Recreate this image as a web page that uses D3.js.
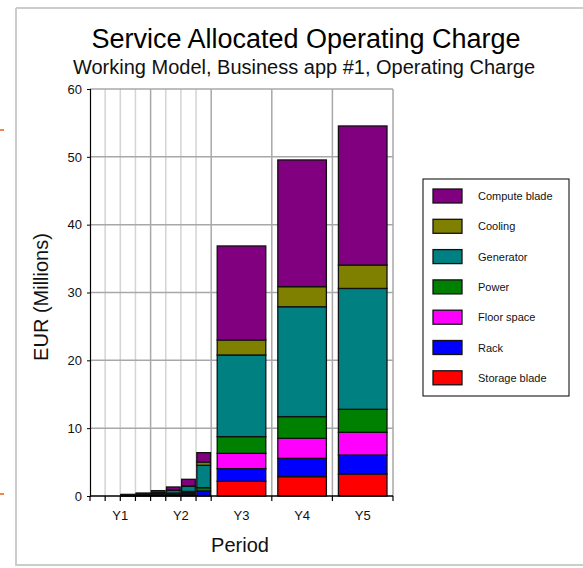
<!DOCTYPE html>
<html>
<head>
<meta charset="utf-8">
<script src="https://cdn.jsdelivr.net/npm/d3@7"></script>
<style>
  html, body { margin: 0; padding: 0; background: #fff; }
  svg { display: block; font-family: "Liberation Sans", Arial, sans-serif; }
</style>
</head>
<body>
<svg id="chart" width="583" height="568"></svg>
<script>
// ---- data ----
const years = ["Y1", "Y2", "Y3", "Y4", "Y5"];
const quarters = ["Q1", "Q2", "Q3", "Q4"];
const periodYear = ["Y1", "Y1", "Y1", "Y1", "Y2", "Y2", "Y2", "Y2", "Y3", "Y4", "Y5"];
const periodQuarter = ["Q1", "Q2", "Q3", "Q4", "Q1", "Q2", "Q3", "Q4", null, null, null];
const seriesNames = ["Compute blade", "Cooling", "Generator", "Power", "Floor space", "Rack", "Storage blade"];
const seriesColors = ["#800080", "#808000", "#008080", "#008000", "#ff00ff", "#0000ff", "#ff0000"];
const computeBlade = [0, 0, 0.05, 0.10, 0.30, 0.45, 0.94, 1.38, 13.86, 18.68, 20.50];
const cooling      = [0, 0, 0.01, 0.02, 0.03, 0.05, 0.10, 0.49, 2.21, 2.96, 3.45];
const generator    = [0, 0, 0.05, 0.10, 0.18, 0.40, 0.75, 3.29, 12.04, 16.20, 17.82];
const power        = [0, 0, 0.03, 0.05, 0.07, 0.10, 0.17, 0.49, 2.46, 3.20, 3.39];
const floorSpace   = [0, 0, 0.03, 0.05, 0.07, 0.10, 0.15, 0.05, 2.26, 2.95, 3.35];
const rack         = [0, 0, 0.04, 0.07, 0.08, 0.13, 0.20, 0.60, 1.87, 2.70, 2.80];
const storageBlade = [0, 0, 0.03, 0.05, 0.06, 0.10, 0.15, 0.09, 2.16, 2.85, 3.24];
const yTicks = [0, 10, 20, 30, 40, 50, 60];

const seriesValues = [computeBlade, cooling, generator, power, floorSpace, rack, storageBlade];

// table for stacking
const rows = periodYear.map((yr, i) => {
  const r = { year: yr, quarter: periodQuarter[i] };
  seriesNames.forEach((s, k) => { r[s] = seriesValues[k][i]; });
  return r;
});

const svg = d3.select("#chart");

// frame
svg.append("line").attr("x1", 16).attr("y1", 8).attr("x2", 583).attr("y2", 8).attr("stroke", "#c9cec9").attr("stroke-width", 2);
svg.append("line").attr("x1", 16).attr("y1", 565).attr("x2", 583).attr("y2", 565).attr("stroke", "#c9cec9").attr("stroke-width", 2);
svg.append("line").attr("x1", 16).attr("y1", 8).attr("x2", 16).attr("y2", 566).attr("stroke", "#c9cec9").attr("stroke-width", 2);
// orange marks on left
[130, 494].forEach(yy => svg.append("line").attr("x1", 0).attr("x2", 4).attr("y1", yy).attr("y2", yy).attr("stroke", "#f08a4b").attr("stroke-width", 2));

const plotLeft = 90, plotRight = 393, plotTop = 89, plotBottom = 496;

const x = d3.scaleBand().domain(years).range([plotLeft, plotRight]).padding(0);
const xq = d3.scaleBand().domain(quarters).range([0, x.bandwidth()]).paddingInner(0.1).paddingOuter(0.05);
const xa = d3.scaleBand().domain(["all"]).range([0, x.bandwidth()]).padding(0.11);
const y = d3.scaleLinear().domain([0, 60]).range([plotBottom, plotTop]);

// grid: quarter lines (light)
const g = svg.append("g");
["Y1", "Y2"].forEach(yr => {
  [1, 2, 3].forEach(k => {
    const pos = x(yr) + (x.bandwidth() / 4) * k;
    g.append("line").attr("x1", pos).attr("x2", pos).attr("y1", plotTop).attr("y2", plotBottom)
      .attr("stroke", "#d4d4d4").attr("stroke-width", 1.5);
  });
});
// year lines
years.forEach(yr => {
  const pos = x(yr) + x.bandwidth();
  g.append("line").attr("x1", pos).attr("x2", pos).attr("y1", plotTop).attr("y2", plotBottom)
    .attr("stroke", "#a8a8a8").attr("stroke-width", 1.5);
});
// horizontal grid
yTicks.slice(1).forEach(t => {
  g.append("line").attr("x1", plotLeft).attr("x2", plotRight).attr("y1", y(t)).attr("y2", y(t))
    .attr("stroke", "#a8a8a8").attr("stroke-width", 1.5);
});

// stacked bars
const stack = d3.stack().keys(seriesNames.slice().reverse());
const stacked = stack(rows);
const barsG = svg.append("g");
stacked.forEach(layer => {
  const color = seriesColors[seriesNames.indexOf(layer.key)];
  layer.forEach((seg, i) => {
    const r = rows[i];
    if (seg[1] - seg[0] <= 0) return;
    let bx, bw;
    if (r.quarter) { bx = x(r.year) + xq(r.quarter); bw = xq.bandwidth(); }
    else { bx = x(r.year) + xa("all"); bw = xa.bandwidth(); }
    barsG.append("rect")
      .attr("x", bx).attr("width", bw)
      .attr("y", y(seg[1])).attr("height", y(seg[0]) - y(seg[1]))
      .attr("fill", color).attr("stroke", "#111").attr("stroke-width", 1.3);
  });
});

// axes
const yAxis = d3.axisLeft(y).tickValues(yTicks).tickSize(3).tickPadding(5);
const ya = svg.append("g").attr("transform", `translate(${plotLeft},0)`).call(yAxis);
ya.select(".domain").attr("stroke", "#000").attr("stroke-width", 1.2);
ya.selectAll("text").attr("font-size", 13).attr("fill", "#111").attr("font-family", "Liberation Sans, Arial, sans-serif");

const xAxisG = svg.append("g").attr("transform", `translate(0,${plotBottom})`);
xAxisG.append("line").attr("x1", plotLeft).attr("x2", plotRight).attr("y1", 0).attr("y2", 0).attr("stroke", "#000").attr("stroke-width", 1.5);
const tickPos = [plotLeft];
["Y1", "Y2"].forEach(yr => { for (let k = 1; k <= 4; k++) tickPos.push(x(yr) + (x.bandwidth() / 4) * k); });
["Y3", "Y4", "Y5"].forEach(yr => tickPos.push(x(yr) + x.bandwidth()));
tickPos.forEach(p => xAxisG.append("line").attr("x1", p).attr("x2", p).attr("y1", 0).attr("y2", 5).attr("stroke", "#000").attr("stroke-width", 1.2));
years.forEach(yr => {
  xAxisG.append("text").attr("x", x(yr) + x.bandwidth() / 2).attr("y", 24)
    .attr("text-anchor", "middle").attr("font-size", 13).attr("fill", "#111").text(yr);
});

// titles
svg.append("text").attr("x", 306).attr("y", 48).attr("text-anchor", "middle")
  .attr("font-size", 27).attr("fill", "#000").text("Service Allocated Operating Charge");
svg.append("text").attr("x", 304).attr("y", 74).attr("text-anchor", "middle")
  .attr("font-size", 20).attr("fill", "#111").text("Working Model, Business app #1, Operating Charge");
svg.append("text").attr("x", 240).attr("y", 552).attr("text-anchor", "middle")
  .attr("font-size", 20).attr("fill", "#111").text("Period");
svg.append("text").attr("transform", "translate(48,297) rotate(-90)").attr("text-anchor", "middle")
  .attr("font-size", 20).attr("fill", "#111").text("EUR (Millions)");

// legend
const lg = svg.append("g").attr("transform", "translate(423,179)");
lg.append("rect").attr("x", 0).attr("y", 0).attr("width", 146).attr("height", 217)
  .attr("fill", "#fff").attr("stroke", "#000").attr("stroke-width", 1);
seriesNames.forEach((s, i) => {
  const yy = 10 + i * 30.3;
  lg.append("rect").attr("x", 10).attr("y", yy).attr("width", 29).attr("height", 14)
    .attr("fill", seriesColors[i]).attr("stroke", "#111").attr("stroke-width", 1.3);
  lg.append("text").attr("x", 55).attr("y", yy + 11).attr("font-size", 11).attr("fill", "#111").text(s);
});
</script>
</body>
</html>
